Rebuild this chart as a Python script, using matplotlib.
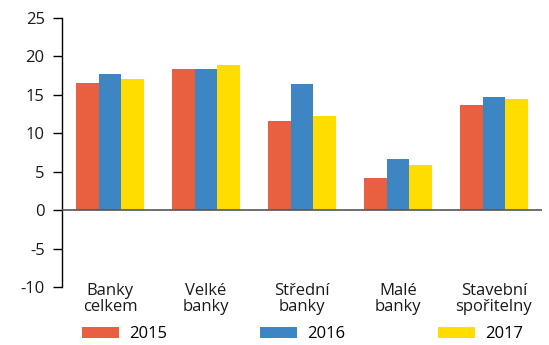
import matplotlib.pyplot as plt
import numpy as np

plt.rcParams['font.family'] = ['Open Sans', 'DejaVu Sans']
plt.rcParams['axes.unicode_minus'] = False

categories = ['Banky\ncelkem', 'Velké\nbanky', 'Střední\nbanky', 'Malé\nbanky', 'Stavební\nspořitelny']
years = ['2015', '2016', '2017']
v2015 = [16.6, 18.4, 11.6, 4.2, 13.7]
v2016 = [17.7, 18.4, 16.4, 6.6, 14.7]
v2017 = [17.0, 18.9, 12.2, 5.9, 14.4]
colors = ['#E8603F', '#3E85C3', '#FFDD00']

fig = plt.figure(figsize=(5.49, 3.45), dpi=100)
ax = fig.add_axes([0.113, 0.168, 0.874, 0.78])

x = np.arange(len(categories))
w = 0.236
for i, (vals, lab) in enumerate(zip([v2015, v2016, v2017], years)):
    ax.bar(x + (i - 1) * w, vals, width=w, color=colors[i], label=lab, zorder=2)

ax.axhline(0, color='#555555', linewidth=1.2, zorder=3)

ax.set_xlim(-0.5, len(categories) - 0.5)
ax.set_ylim(-10, 25)
ax.set_yticks(np.arange(-10, 26, 5))
ax.set_xticks(x)
ax.set_xticklabels(categories, fontsize=12, color='#1a1a1a', linespacing=1.0)
ax.tick_params(axis='x', length=0, pad=-3)
ax.tick_params(axis='y', direction='out', length=6.5, width=1, labelsize=12, labelcolor='#1a1a1a', pad=6)

for s in ['top', 'right', 'bottom']:
    ax.spines[s].set_visible(False)
ax.spines['left'].set_linewidth(1)

fig.legend(loc='lower left', bbox_to_anchor=(0.122, -0.035), ncol=3, frameon=False,
           fontsize=12, handlelength=2.2, handleheight=0.66, handletextpad=0.6,
           columnspacing=5.6)

fig.savefig('out.png', dpi=100)
